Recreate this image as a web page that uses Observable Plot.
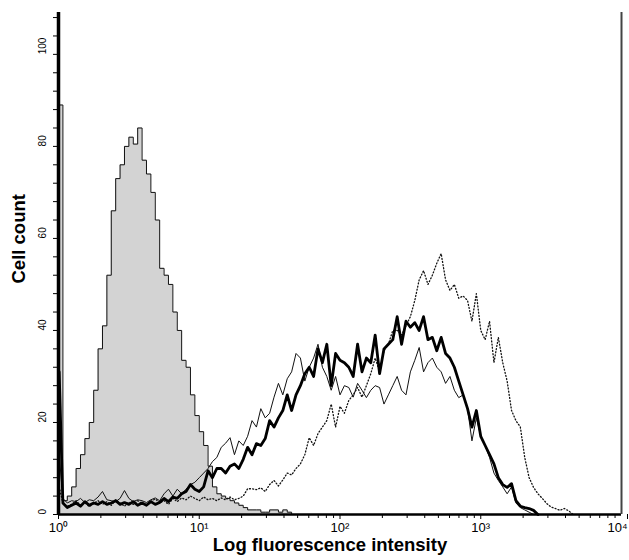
<!DOCTYPE html>
<html><head><meta charset="utf-8">
<script src="https://cdn.jsdelivr.net/npm/d3@7"></script>
<script src="https://cdn.jsdelivr.net/npm/@observablehq/plot@0.6"></script>
<style>body{margin:0;background:#fff}</style>
</head><body><div id="chart"></div>
<script>
// 128-channel log histogram, 32 channels per decade (10^0 .. 10^4)
const channelsPerDecade = 32;
const isotype = [89, 3, 4, 6, 10, 13, 16.5, 20, 27, 36, 41, 52, 66, 73, 76, 80, 82, 80.5, 84, 77, 74, 70, 64, 53.5, 52, 50, 44, 40, 33.5, 32, 26, 21.5, 18, 15, 10.5, 6, 4.5, 4, 3.5, 3, 2.5, 2, 1.5, 1, 1, 1, 0.5, 0.5, 1, 1, 0.5, 1, 0.5, 0];
const thinSeries = [13, 3.5, 2.5, 3, 2.8, 3.5, 2.6, 3.2, 3, 3.8, 5, 3.2, 3, 2.8, 3.5, 5.2, 3.5, 2.8, 3.2, 3, 2.6, 3.2, 3.6, 3, 4.5, 5.5, 4, 5.5, 4.5, 5.5, 6.5, 7, 8, 9, 10, 11.5, 12.4, 14.6, 15.5, 16.7, 13, 16, 15, 17, 20.4, 19, 23, 21, 22, 25.5, 28.5, 26, 29.5, 31, 35, 34, 29, 32, 34, 37, 32, 30, 27, 30, 26, 28, 27.6, 25.5, 28.5, 27, 25.4, 27, 28, 27.6, 24, 26, 28, 30, 27, 26, 31, 33.5, 36.3, 31, 33, 34, 32, 31, 28.5, 30, 27, 25.4, 26, 23, 16, 21, 17, 15, 12.4, 9, 7.4, 6, 4.5, 6, 2.5, 1.5, 1, 0.5, 0];
const thickSeries = [31, 2.5, 1.5, 2, 2.5, 1.8, 2.8, 2, 2.5, 2.2, 2.8, 2.2, 2.5, 3, 2.2, 2.6, 2.2, 2.8, 2, 2.5, 2, 2.8, 2.2, 2.6, 3.5, 2.8, 3.8, 3.5, 4.5, 5, 6.5, 5.5, 5, 6, 9.5, 8, 10, 10, 9, 10.5, 11, 10, 12, 14.6, 13, 15.4, 15, 16.5, 20.4, 19, 21, 22.6, 26, 22.6, 26, 28, 30.6, 32, 30, 36, 33, 37, 28, 35, 33.5, 33, 32, 30, 37, 31, 34, 33, 39, 30.6, 36, 37, 38, 43, 37, 42, 40.7, 41.7, 40, 43, 38, 38.5, 35.6, 38.5, 35, 34, 32, 29, 26, 23, 19, 22.6, 17, 15, 13, 11, 8, 6.5, 5.9, 6.7, 3, 1.8, 1.5, 1.3, 0.9, 0];
const dottedSeries = [6, 2.5, 1.8, 2.2, 3, 2, 2.6, 1.7, 2.4, 3, 2.2, 2.8, 2, 3.2, 2.5, 1.8, 2.7, 2.2, 3, 2.4, 2, 2.8, 3.4, 2.5, 3, 2.2, 3.5, 2.8, 3.6, 3.2, 4, 3.5, 3, 3.8, 3.2, 3.5, 3, 3.6, 3.2, 3.8, 3.2, 3.5, 4, 5.6, 5.6, 5.4, 5.8, 5, 6.5, 7.4, 6.2, 7.5, 9, 8.6, 10, 11, 13, 16.7, 15, 17.6, 19, 20.4, 24, 19, 23.5, 22, 24.8, 26, 27.6, 25.5, 28, 30.6, 34, 31, 35.6, 37, 40, 40, 39, 41, 43, 46.5, 51, 53, 50, 52, 54.6, 56.7, 51, 48.7, 50, 47, 47.5, 46.5, 42, 48, 40, 38, 42, 33, 38.5, 33, 29, 22.6, 20.4, 19, 12.4, 8, 5.9, 4.5, 3.5, 2.4, 1.6, 1.3, 0.9, 1.3, 0.8, 0];
const yTickLabels = [0, 20, 40, 60, 80, 100];
const xDecades = [0, 1, 2, 3, 4];
const superscripts = ["⁰", "¹", "²", "³", "⁴"];
const xTitle = "Log fluorescence intensity";
const yTitle = "Cell count";

const stepRows = arr => arr.map((count, i) => ({x: 10 ** (i / channelsPerDecade), count}));
const lineRows = arr => arr.map((count, i) => ({x: 10 ** (Math.max(i, 0.15) / channelsPerDecade), count}));
const yTicks = d3.range(0, 109, 4);
const minorTicks = xDecades.slice(0, -1).flatMap(d => [2, 3, 4, 5, 6, 7, 8, 9].map(m => m * 10 ** d));
const majorTicks = xDecades.map(d => 10 ** d);
const font = "'Liberation Sans', Arial, Helvetica, sans-serif";
const fmt = d => "10" + superscripts[Math.round(Math.log10(d))];

const chart = Plot.plot({
  width: 629, height: 560,
  marginLeft: 58, marginRight: 8, marginTop: 12, marginBottom: 46,
  x: {type: "log", domain: [1, 1e4], label: null},
  y: {domain: [0, 109.1], label: null},
  style: {fontFamily: font, color: "black", background: "white"},
  marks: [
    Plot.areaY(stepRows(isotype), {x: "x", y: "count", curve: "step-after", fill: "#d3d3d3"}),
    Plot.lineY(stepRows(isotype), {x: "x", y: "count", curve: "step-after", stroke: "#111", strokeWidth: 1}),
    Plot.lineY(lineRows(dottedSeries), {x: "x", y: "count", stroke: "#111", strokeWidth: 1.3, strokeDasharray: "1,2.2"}),
    Plot.lineY(lineRows(thinSeries), {x: "x", y: "count", stroke: "#111", strokeWidth: 1}),
    Plot.lineY(lineRows(thickSeries), {x: "x", y: "count", stroke: "#000", strokeWidth: 2.8}),
    Plot.axisY({ticks: yTicks, tickSize: 5, tickFormat: () => "", label: null}),
    Plot.text(yTickLabels, {y: d => d, text: d => String(d), frameAnchor: "left", dx: -16, rotate: -90, fontSize: 10}),
    Plot.axisX({ticks: minorTicks, tickSize: 4, tickFormat: () => "", label: null}),
    Plot.axisX({ticks: majorTicks.slice(0, -1), tickSize: 5, tickPadding: 3, fontSize: 13, tickFormat: fmt, label: null}),
    Plot.axisX({ticks: majorTicks.slice(-1), tickSize: 5, tickPadding: 3, fontSize: 13, tickFormat: fmt, label: null, textAnchor: "end", dx: 6}),
    Plot.ruleX([1], {strokeWidth: 3.5, stroke: "#000"}),
    Plot.ruleY([0], {strokeWidth: 2.5, stroke: "#000"}),
    Plot.ruleX([1e4], {strokeWidth: 2, stroke: "#444"}),
    Plot.text([xTitle], {frameAnchor: "bottom", dy: 36, dx: -10, fontWeight: "bold", fontSize: 18.5}),
    Plot.text([yTitle], {frameAnchor: "left", dx: -39, dy: 20, rotate: -90, fontWeight: "bold", fontSize: 18.5})
  ]
});
document.getElementById("chart").appendChild(chart);
</script>
</body></html>
